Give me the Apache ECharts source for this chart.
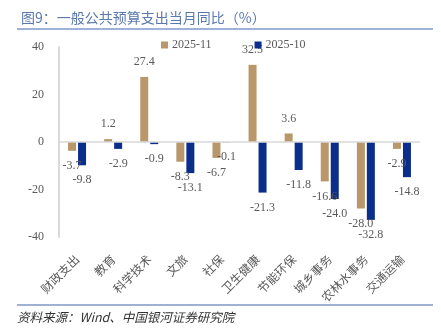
<!DOCTYPE html>
<html>
<head>
<meta charset="utf-8">
<script src="https://cdn.jsdelivr.net/npm/echarts@6/dist/echarts.min.js"></script>
<style>
  html, body { margin: 0; padding: 0; background: #fff; }
  #chart { width: 441px; height: 329px; }
</style>
</head>
<body>
<div id="chart"></div>
<script>
// Categories of general public budget expenditure
const categories = ['财政支出', '教育', '科学技术', '文旅', '社保', '卫生健康', '节能环保', '城乡事务', '农林水事务', '交通运输'];
// Year-on-year growth for the month (%)
const nov2025 = [-3.7, 1.2, 27.4, -8.3, -6.7, 32.5, 3.6, -16.6, -28.0, -2.9];
const oct2025 = [-9.8, -2.9, -0.9, -13.1, -0.1, -21.3, -11.8, -24.0, -32.8, -14.8];
const seriesNames = ['2025-11', '2025-10'];
const yTicks = { min: -40, max: 40, interval: 20 };

const numFont = 'Liberation Serif, Times New Roman, serif';
const cjkFont = 'Noto Sans CJK SC, sans-serif';
const labelColor = '#595959';

function barSeries(name, data, color) {
  return {
    name: name,
    type: 'bar',
    data: data.map(v => ({
      value: v,
      label: { position: v >= 0 ? 'top' : 'bottom' }
    })),
    barWidth: 8,
    barGap: '25%',
    itemStyle: { color: color },
    label: {
      show: true,
      distance: 9,
      color: labelColor,
      fontFamily: numFont,
      fontSize: 12,
      formatter: p => Number(p.value).toFixed(1)
    }
  };
}

const chart = echarts.init(document.getElementById('chart'), null, { renderer: 'canvas' });
chart.setOption({
  animation: false,
  title: {
    text: '图9：一般公共预算支出当月同比（%）',
    left: 16,
    top: 6,
    textStyle: { color: '#5a78ad', fontSize: 14, fontWeight: 'normal', fontFamily: cjkFont }
  },
  legend: {
    data: seriesNames,
    left: 156,
    top: 34,
    itemWidth: 7,
    itemHeight: 7,
    itemGap: 43,
    icon: 'rect',
    textStyle: { color: labelColor, fontSize: 12, fontFamily: numFont, padding: [0, 0, 0, -1] }
  },
  grid: { left: 59, right: 21, top: 47, bottom: 92, containLabel: false },
  xAxis: {
    type: 'category',
    data: categories,
    axisLine: { show: false, onZero: false },
    axisTick: { show: false },
    axisLabel: {
      rotate: 45,
      interval: 0,
      margin: 20,
      color: labelColor,
      fontSize: 12,
      fontFamily: cjkFont
    }
  },
  yAxis: {
    type: 'value',
    min: yTicks.min,
    max: yTicks.max,
    interval: yTicks.interval,
    axisLine: { show: true, lineStyle: { color: '#d9d9d9', width: 2 } },
    axisTick: { show: false },
    splitLine: { show: false },
    axisLabel: { color: labelColor, fontSize: 12, fontFamily: numFont, margin: 15 }
  },
  series: [
    Object.assign(barSeries(seriesNames[0], nov2025, '#b9976a'), {
      markLine: {
        silent: true,
        symbol: 'none',
        label: { show: false },
        lineStyle: { color: '#d9d9d9', width: 1.5, type: 'solid' },
        data: [{ yAxis: 0 }]
      }
    }),
    barSeries(seriesNames[1], oct2025, '#0b2d8c')
  ],
  graphic: [
    { type: 'line', shape: { x1: 17, y1: 29, x2: 433, y2: 29 }, style: { stroke: '#9fb1d6', lineWidth: 2 } },
    { type: 'line', shape: { x1: 17, y1: 305, x2: 433, y2: 305 }, style: { stroke: '#9fb1d6', lineWidth: 2 } },
    {
      type: 'text',
      left: 17,
      top: 311,
      style: {
        text: '资料来源：Wind、中国银河证券研究院',
        fill: '#333333',
        font: 'italic 12.5px ' + cjkFont
      }
    }
  ]
});
</script>
</body>
</html>
